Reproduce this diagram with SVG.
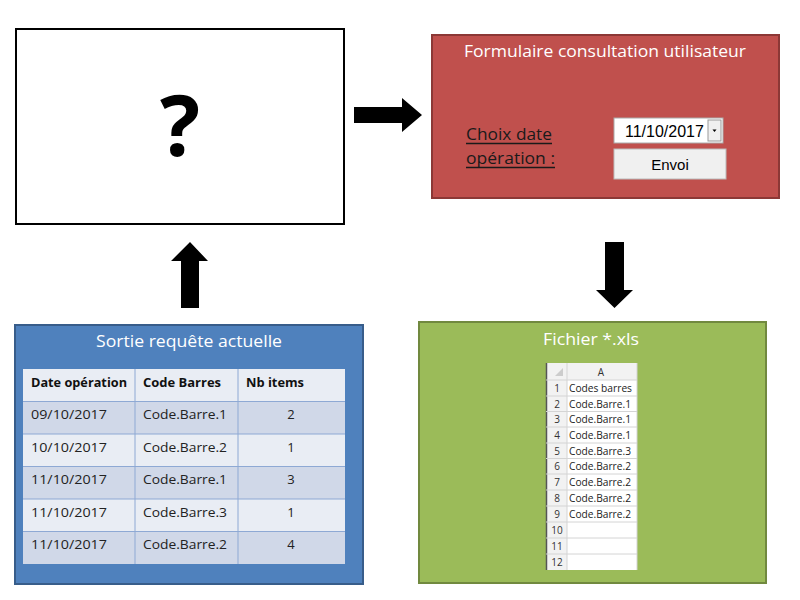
<svg xmlns="http://www.w3.org/2000/svg" width="800" height="600" viewBox="0 0 800 600">
<style>
.t{font-family:"Open Sans","Noto Sans","Liberation Sans",sans-serif}
.ttl{font-size:17px;fill:#fff;text-anchor:middle}
.cell{font-size:13px;fill:#222}
.hdr{font-size:13px;font-weight:bold;fill:#111}
.xl{font-family:"Open Sans","Noto Sans",sans-serif;font-size:10.5px;fill:#222}
.rn{font-family:"Open Sans","Noto Sans",sans-serif;font-size:10px;fill:#333;text-anchor:middle}
.arrow{fill:#000}
</style>
<rect width="800" height="600" fill="#fff"/>

<g id="unknown">
<rect x="16" y="29" width="328" height="195" fill="#fff" stroke="#000" stroke-width="2"/>
<text x="180" y="156" class="t" font-size="84" font-weight="bold" text-anchor="middle" fill="#000">?</text>
</g>

<g id="formulaire">
<rect x="432" y="35" width="347" height="163" fill="#C0504D" stroke="#8C3836" stroke-width="2"/>
<text x="605" y="57" class="t ttl" textLength="282" lengthAdjust="spacingAndGlyphs">Formulaire consultation utilisateur</text>
<text x="466" y="140" class="t" font-size="17" fill="#1a1a1a" textLength="86" lengthAdjust="spacingAndGlyphs">Choix date</text>
<text x="466" y="164" class="t" font-size="17" fill="#1a1a1a" textLength="89" lengthAdjust="spacingAndGlyphs">opération :</text>
<line x1="466" y1="143.5" x2="552" y2="143.5" stroke="#1a1a1a" stroke-width="1.5"/>
<line x1="466" y1="167.5" x2="555" y2="167.5" stroke="#1a1a1a" stroke-width="1.5"/>
<rect x="614" y="118" width="109" height="25" fill="#fff" stroke="#aaa" stroke-width="1"/>
<rect x="708" y="120" width="13" height="21" fill="#f0f0f0" stroke="#999" stroke-width="1"/>
<path d="M712.5 129.5 L716.5 129.5 L714.5 132 Z" fill="#000"/>
<text x="625" y="137" font-family="Liberation Sans,Arial,sans-serif" font-size="16" fill="#000">11/10/2017</text>
<rect x="614" y="149" width="112" height="30" fill="#F0F0F0" stroke="#bbb" stroke-width="1"/>
<text x="670" y="170" font-family="Liberation Sans,Arial,sans-serif" font-size="15" fill="#000" text-anchor="middle">Envoi</text>
</g>

<g id="sortie">
<rect x="15" y="325" width="348" height="259" fill="#4F81BD" stroke="#385D8A" stroke-width="2"/>
<text x="189" y="347" class="t ttl" textLength="186" lengthAdjust="spacingAndGlyphs">Sortie requête actuelle</text>
<rect x="23" y="369" width="322" height="32.5" fill="#E9EDF4"/>
<rect x="23" y="401.5" width="322" height="32.5" fill="#D0D8E8"/>
<rect x="23" y="434" width="322" height="32.5" fill="#E9EDF4"/>
<rect x="23" y="466.5" width="322" height="32.5" fill="#D0D8E8"/>
<rect x="23" y="499" width="322" height="32.5" fill="#E9EDF4"/>
<rect x="23" y="531.5" width="322" height="32.5" fill="#D0D8E8"/>
<g stroke="#8EA9D4" stroke-width="1">
<line x1="135" y1="369" x2="135" y2="564"/>
<line x1="238" y1="369" x2="238" y2="564"/>
<line x1="23" y1="401.5" x2="345" y2="401.5"/>
<line x1="23" y1="434" x2="345" y2="434"/>
<line x1="23" y1="466.5" x2="345" y2="466.5"/>
<line x1="23" y1="499" x2="345" y2="499"/>
<line x1="23" y1="531.5" x2="345" y2="531.5"/>
</g>
<text x="31" y="387" class="t hdr" textLength="96" lengthAdjust="spacingAndGlyphs">Date opération</text>
<text x="143" y="387" class="t hdr" textLength="78" lengthAdjust="spacingAndGlyphs">Code Barres</text>
<text x="246" y="387" class="t hdr" textLength="58" lengthAdjust="spacingAndGlyphs">Nb items</text>
<g class="t cell">
<text x="31" y="419" textLength="76" lengthAdjust="spacingAndGlyphs">09/10/2017</text>
<text x="143" y="419" textLength="84" lengthAdjust="spacingAndGlyphs">Code.Barre.1</text>
<text x="291" y="419" text-anchor="middle">2</text>
<text x="31" y="452" textLength="76" lengthAdjust="spacingAndGlyphs">10/10/2017</text>
<text x="143" y="452" textLength="84" lengthAdjust="spacingAndGlyphs">Code.Barre.2</text>
<text x="291" y="452" text-anchor="middle">1</text>
<text x="31" y="484" textLength="76" lengthAdjust="spacingAndGlyphs">11/10/2017</text>
<text x="143" y="484" textLength="84" lengthAdjust="spacingAndGlyphs">Code.Barre.1</text>
<text x="291" y="484" text-anchor="middle">3</text>
<text x="31" y="517" textLength="76" lengthAdjust="spacingAndGlyphs">11/10/2017</text>
<text x="143" y="517" textLength="84" lengthAdjust="spacingAndGlyphs">Code.Barre.3</text>
<text x="291" y="517" text-anchor="middle">1</text>
<text x="31" y="549" textLength="76" lengthAdjust="spacingAndGlyphs">11/10/2017</text>
<text x="143" y="549" textLength="84" lengthAdjust="spacingAndGlyphs">Code.Barre.2</text>
<text x="291" y="549" text-anchor="middle">4</text>
</g>
</g>

<g id="fichier">
<rect x="419" y="322" width="347" height="261" fill="#9BBB59" stroke="#71893F" stroke-width="2"/>
<text x="591" y="345" class="t ttl" textLength="96" lengthAdjust="spacingAndGlyphs">Fichier *.xls</text>
<rect x="546" y="363" width="91" height="207" fill="#fff"/>
<rect x="546" y="363" width="91" height="17" fill="#F2F2F2"/>
<rect x="546" y="380" width="21" height="190" fill="#F2F2F2"/>
<line x1="546.5" y1="363" x2="546.5" y2="570" stroke="#555" stroke-width="1.5"/>
<path d="M563 376 L563 368 L555 376 Z" fill="#ccc"/>
<g stroke="#D4D4D4" stroke-width="1">
<line x1="567" y1="363" x2="567" y2="570"/>
<line x1="637" y1="363" x2="637" y2="570"/>
<line x1="546" y1="380" x2="637" y2="380"/>
<line x1="546" y1="396" x2="637" y2="396"/>
<line x1="546" y1="411.5" x2="637" y2="411.5"/>
<line x1="546" y1="427" x2="637" y2="427"/>
<line x1="546" y1="443" x2="637" y2="443"/>
<line x1="546" y1="458.5" x2="637" y2="458.5"/>
<line x1="546" y1="474" x2="637" y2="474"/>
<line x1="546" y1="490" x2="637" y2="490"/>
<line x1="546" y1="506" x2="637" y2="506"/>
<line x1="546" y1="522" x2="637" y2="522"/>
<line x1="546" y1="538" x2="637" y2="538"/>
<line x1="546" y1="554" x2="637" y2="554"/>
</g>
<text x="601" y="376" class="rn">A</text>
<g class="rn">
<text x="557" y="392">1</text><text x="557" y="408">2</text><text x="557" y="423">3</text>
<text x="557" y="439">4</text><text x="557" y="455">5</text><text x="557" y="470">6</text>
<text x="557" y="486">7</text><text x="557" y="502">8</text><text x="557" y="518">9</text>
<text x="557" y="534">10</text><text x="557" y="550">11</text><text x="557" y="566">12</text>
</g>
<g class="xl">
<text x="569" y="392" textLength="63" lengthAdjust="spacingAndGlyphs">Codes barres</text>
<text x="569" y="408" textLength="62" lengthAdjust="spacingAndGlyphs">Code.Barre.1</text>
<text x="569" y="423" textLength="62" lengthAdjust="spacingAndGlyphs">Code.Barre.1</text>
<text x="569" y="439" textLength="62" lengthAdjust="spacingAndGlyphs">Code.Barre.1</text>
<text x="569" y="455" textLength="62" lengthAdjust="spacingAndGlyphs">Code.Barre.3</text>
<text x="569" y="470" textLength="62" lengthAdjust="spacingAndGlyphs">Code.Barre.2</text>
<text x="569" y="486" textLength="62" lengthAdjust="spacingAndGlyphs">Code.Barre.2</text>
<text x="569" y="502" textLength="62" lengthAdjust="spacingAndGlyphs">Code.Barre.2</text>
<text x="569" y="518" textLength="62" lengthAdjust="spacingAndGlyphs">Code.Barre.2</text>
</g>
</g>

<g id="connectors">
<path class="arrow" d="M354 107 L402 107 L402 98 L422 115 L402 132 L402 123 L354 123 Z"/>
<path class="arrow" d="M605 242 L624 242 L624 290 L633 290 L614.5 308 L596 290 L605 290 Z"/>
<path class="arrow" d="M181 308 L199 308 L199 261 L208 261 L190 242 L171 261 L181 261 Z"/>
</g>
</svg>
